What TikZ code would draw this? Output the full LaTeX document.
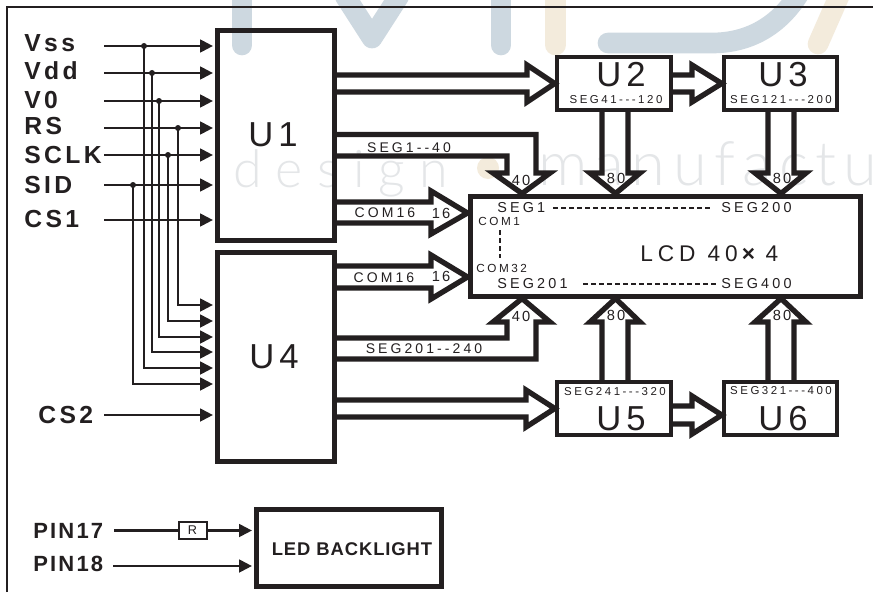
\documentclass[tikz,border=0pt]{standalone}
\usepackage{fontspec}
\setmainfont{Liberation Sans}
\newfontfamily\fbold[LetterSpace=14]{Liberation Sans}
\newfontfamily\fpin[LetterSpace=10]{Liberation Sans}
\newfontfamily\fwide[LetterSpace=22]{Liberation Sans}
\newfontfamily\fbig[LetterSpace=14]{Liberation Sans}
\newfontfamily\fled[LetterSpace=5]{Liberation Sans}
\newfontfamily\fwma[LetterSpace=27]{Lato Light}
\newfontfamily\fwmb[LetterSpace=12]{Lato Light}
\usetikzlibrary{arrows.meta}
\definecolor{ink}{HTML}{231F20}
\definecolor{wmblue}{HTML}{CDD8E0}
\definecolor{wmbeige}{HTML}{F3EBDC}
\definecolor{wmtext}{HTML}{E4E6E8}
\tikzset{
  boxa/.style={draw=ink,line width=3.75pt,inner sep=0pt,outer sep=.5\pgflinewidth},
  boxb/.style={draw=ink,line width=3.3pt,inner sep=0pt,outer sep=.5\pgflinewidth},
  pinlabel/.style={anchor=west,inner sep=0pt,text=ink,font=\fbold\bfseries\fontsize{18.5}{20}\selectfont},
  ledpin/.style={anchor=west,inner sep=0pt,text=ink,font=\fpin\bfseries\fontsize{16.5}{18}\selectfont},
  biglabel/.style={inner sep=0pt,text=ink,font=\fbig\fontsize{26}{28}\selectfont},
  seglabel/.style={inner sep=0pt,text=ink,font=\fwide\fontsize{10.5}{12}\selectfont},
  smalllabel/.style={inner sep=0pt,text=ink,font=\fwide\fontsize{8.6}{10}\selectfont},
  lcdlabel/.style={inner sep=0pt,text=ink,font=\fwide\fontsize{10.8}{12}\selectfont},
  comlabel/.style={inner sep=0pt,text=ink,font=\fwide\fontsize{8.8}{10}\selectfont},
  numlabel/.style={inner sep=0pt,text=ink,font=\fbig\fontsize{11}{12}\selectfont},
  wire/.style={draw=ink,line width=1.6pt},
  sig/.style={wire,-{Triangle[length=9.5pt,width=9.5pt]},shorten >=1.2pt},
  fat/.style={draw=ink,line width=4pt,miter limit=10},
  junction/.style={circle,fill=ink,inner sep=0pt,minimum size=4.5pt},
  dotted line/.style={draw=ink,line width=1.5pt,dash pattern=on 4pt off 2pt},
  wm/.style={line width=15.5pt,line cap=round,line join=round},
  wmword/.style={inner sep=0pt,text=wmtext}
}
\begin{document}
\begin{tikzpicture}[x=.75pt,y=-.75pt]
\useasboundingbox (0,0) rectangle (873,592);
\fill[white] (0,0) rectangle (873,592);
% watermark
\begin{scope}
\clip (0,0) rectangle (873,592);
\draw[wm,wmblue] (242,-15) -- (242,45);
\draw[wm,wmblue] (345,-4) -- (372,38) -- (399,-4);
\draw[wm,wmblue] (501,-15) -- (501,45);
\draw[wm,wmbeige] (555.5,-15) -- (555.5,45);
\draw[wm,wmblue] (608,43) -- (712,43) .. controls (750,43) and (780,25) .. (800,-8);
\draw[wm,wmbeige] (818,44) -- (840,-6);
\fill[wmbeige] (488,168) circle (11);
\node[wmword,anchor=base west,font=\fwma\fontsize{39}{42}\selectfont] (wmA) at (233,187) {design};
\node[wmword,anchor=base west,font=\fwmb\fontsize{46}{50}\selectfont] (wmB) at (538,185) {manufactu};
\end{scope}
% frame
\draw[ink,line width=1.6pt] (7,592) -- (7,7) -- (873,7);
% blocks
\node[boxa,minimum width=87.75pt,minimum height=157.2pt] (u1) at (275.5,135.3) {};
\node[boxa,minimum width=87.75pt,minimum height=157.2pt] (u4) at (275.5,356.8) {};
\node[boxb,minimum width=85.5pt,minimum height=39.75pt] (u2) at (614,83.5) {};
\node[boxb,minimum width=84.75pt,minimum height=39.75pt] (u3) at (780.5,83.5) {};
\node[boxb,minimum width=85.5pt,minimum height=39.75pt] (u5) at (614,408.5) {};
\node[boxb,minimum width=84.75pt,minimum height=39.75pt] (u6) at (780.5,408.5) {};
\node[boxa,minimum width=292.5pt,minimum height=75pt] (lcd) at (665,246) {};
\node[boxa,minimum width=138.75pt,minimum height=58.1pt] (led) at (348.5,548.2) {};
\node[draw=ink,fill=white,line width=1.5pt,minimum width=21pt,minimum height=13pt,inner sep=0pt,text=ink,font=\fontsize{9.5}{11}\selectfont] (res) at (192.5,530.5) {R};
% block captions
\node[biglabel] (t1) at (273,135) {U1};
\node[biglabel] (t4) at (274,357) {U4};
\node[biglabel] (t2) at (621,75) {U2};
\node[biglabel] (t3) at (783,75) {U3};
\node[biglabel] (t5) at (621,419) {U5};
\node[biglabel] (t6) at (783,419) {U6};
\node[smalllabel] (s2) at (616,100) {SEG41---120};
\node[smalllabel] (s3) at (781,100) {SEG121---200};
\node[smalllabel] (s5) at (615,392) {SEG241---320};
\node[smalllabel] (s6) at (781,390.5) {SEG321---400};
\node[inner sep=0pt,text=ink,font=\fled\bfseries\fontsize{13.8}{15}\selectfont] (t8) at (352,549) {LED BACKLIGHT};
% input labels and terminals
\node[pinlabel] (lvss) at (24,43) {Vss};
\node[pinlabel] (lvdd) at (24,71) {Vdd};
\node[pinlabel] (lv0) at (24,100) {V0};
\node[pinlabel] (lrs) at (24,126) {RS};
\node[pinlabel] (lsclk) at (24,155) {SCLK};
\node[pinlabel] (lsid) at (24,185) {SID};
\node[pinlabel] (lcs1) at (24,219) {CS1};
\node[pinlabel] (lcs2) at (38,415) {CS2};
\node[ledpin] (lp17) at (33,531) {PIN17};
\node[ledpin] (lp18) at (33,564) {PIN18};
\foreach \n/\y in {vss/46,vdd/73,v0/101,rs/128,sclk/155,sid/185,cs1/220,cs2/415}{
  \coordinate (\n) at (104,\y);
  \draw[sig] (\n) -- (u1.west |- \n);
}
% shared bus
\foreach \n/\x/\y in {vss/144/368,vdd/152/352,v0/159/337,rs/178/305,sclk/168/321,sid/133/384}{
  \node[junction] (j\n) at (\x,0 |- \n) {};
  \draw[sig,line join=miter] (j\n.center) -- (\x,\y) -- (u4.west |- 0,\y);
}
% backlight
\coordinate (p17) at (114,530.5);
\coordinate (p18) at (113,566);
\draw[wire] (p17) -- (res);
\draw[sig] (res) -- (led.west |- res);
\draw[sig] (p18) -- (led.west |- p18);
% fat buses
\draw[fat] (u1.east |- 0,75) -- (527,75) -- (527,65) -- (u2.west) -- (527,102) -- (527,92) -- (u1.east |- 0,92);
\draw[fat] (u2.east |- 0,75) -- (692,75) -- (692,65) -- (u3.west) -- (692,102) -- (692,92) -- (u2.east |- 0,92);
\draw[fat] (u4.east |- 0,400) -- (526,400) -- (526,390) -- (u5.west) -- (526,427) -- (526,417) -- (u4.east |- 0,417);
\draw[fat] (u5.east |- 0,406) -- (692,406) -- (692,396) -- (u6.west |- 0,415) -- (692,434) -- (692,424) -- (u5.east |- 0,424);
\draw[fat] (602,0 |- u2.south) -- (602,173) -- (590,173) -- (615.5,0 |- lcd.north) -- (640,173) -- (628,173) -- (628,0 |- u2.south);
\draw[fat] (768,0 |- u3.south) -- (768,173) -- (755,173) -- (781,0 |- lcd.north) -- (806,173) -- (794,173) -- (794,0 |- u3.south);
\draw[fat] (602,0 |- u5.north) -- (602,322) -- (590,322) -- (615.5,0 |- lcd.south) -- (640,322) -- (628,322) -- (628,0 |- u5.north);
\draw[fat] (768,0 |- u6.north) -- (768,322) -- (755,322) -- (781,0 |- lcd.south) -- (806,322) -- (794,322) -- (794,0 |- u6.north);
\draw[fat] (u1.east |- 0,134.5) -- (536,134.5) -- (536,173) -- (550,173) -- (522,0 |- lcd.north) -- (493,173) -- (507,173) -- (507,156) -- (u1.east |- 0,156);
\draw[fat] (u4.east |- 0,359) -- (536,359) -- (536,322) -- (550,322) -- (522,0 |- lcd.south) -- (493,322) -- (507,322) -- (507,338) -- (u4.east |- 0,338);
\draw[fat] (u1.east |- 0,202) -- (431,202) -- (431,191) -- (lcd.west |- 0,213) -- (431,234) -- (431,223) -- (u1.east |- 0,223);
\draw[fat] (u4.east |- 0,266) -- (431,266) -- (431,255) -- (lcd.west |- 0,277) -- (431,299) -- (431,288) -- (u4.east |- 0,288);
% bus labels
\node[seglabel] (b1) at (409,147.5) {SEG1--40};
\node[seglabel] (b2) at (424,349) {SEG201--240};
\node[seglabel] (b3) at (385,213) {COM16};
\node[seglabel] (b4) at (384,278) {COM16};
\node[numlabel] (n1) at (441,213) {16};
\node[numlabel] (n2) at (441,276) {16};
\node[numlabel] (n3) at (521,180) {40};
\node[numlabel] (n4) at (616,178) {80};
\node[numlabel] (n5) at (782,178) {80};
\node[numlabel] (n6) at (521,316) {40};
\node[numlabel] (n7) at (616,315) {80};
\node[numlabel] (n8) at (782,315) {80};
% LCD contents
\node[lcdlabel,anchor=west] (c1) at (497,208) {SEG1};
\node[lcdlabel,anchor=west] (c2) at (721,208) {SEG200};
\node[lcdlabel,anchor=west] (c3) at (497,284) {SEG201};
\node[lcdlabel,anchor=west] (c4) at (721,284) {SEG400};
\node[comlabel,anchor=west] (c5) at (478,221) {COM1};
\node[comlabel,anchor=west] (c6) at (476,268) {COM32};
\draw[dotted line] (553,0 |- c1) -- (710,0 |- c2);
\draw[dotted line] (583,0 |- c3) -- (717,0 |- c4);
\draw[dotted line] (500,230) -- (500,258);
\node[inner sep=0pt,text=ink,font=\fwide\fontsize{17}{19}\selectfont,anchor=west] (c7) at (640,254) {LCD\hspace{9pt}40\hspace{3pt}{\bfseries×}\hspace{8pt}4};
\end{tikzpicture}
\end{document}
